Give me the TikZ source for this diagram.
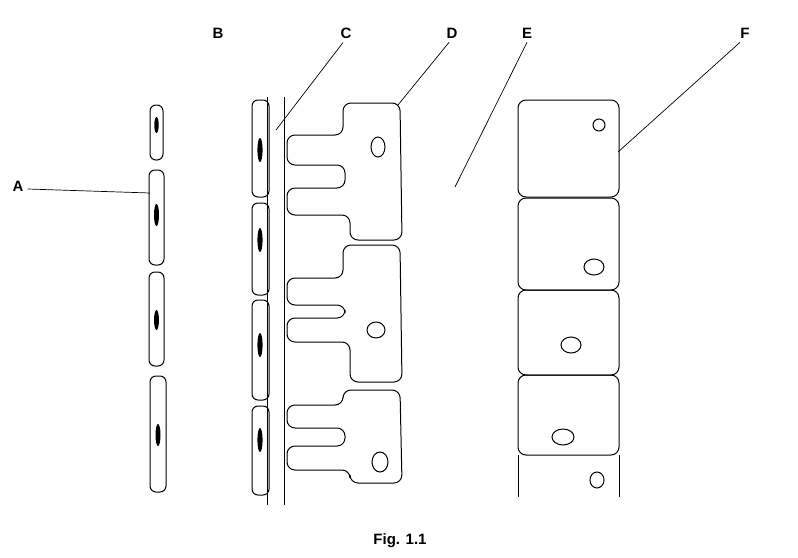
\documentclass[tikz,border=0pt]{standalone}
\usepackage{fontspec}
\setmainfont{Liberation Sans}
\tikzset{
  lbl/.style={font=\bfseries\fontsize{15}{15}\selectfont, inner sep=0pt},
  cell/.style={draw=black, line width=1pt, rounded corners=6pt},
  lead/.style={draw=black, line width=0.7pt},
  nuc/.style={fill=black},
  blob/.style={draw=black, line width=1pt}
}
\begin{document}
\begin{tikzpicture}[x=1pt,y=-1pt]
\useasboundingbox (0,0) rectangle (798,557);

% labels
\node[lbl] (A) at (18,186) {A};
\node[lbl] (B) at (218,33) {B};
\node[lbl] (C) at (346,33) {C};
\node[lbl] (D) at (452,33) {D};
\node[lbl] (E) at (527,33) {E};
\node[lbl] (F) at (745,33) {F};
\node[lbl] (cap) at (400,541) {Fig. 1.1};

% endothelial cells, left column
\draw[cell] (150,105) rectangle (163,160);
\fill[nuc] (156.5,125) ellipse (2.2 and 8);
\draw[cell] (149,170) rectangle (164,265);
\fill[nuc] (156.5,215) ellipse (2.5 and 11);
\draw[cell] (149,272) rectangle (164,366);
\fill[nuc] (156.5,320) ellipse (2.5 and 10);
\draw[cell] (150,376) rectangle (166,492);
\fill[nuc] (158,435) ellipse (2.5 and 11);

% cells beside the membrane
\foreach \ya/\yb/\yn in {100/197/150, 203/295/240, 300/400/345, 406/495/440}
  {\draw[cell] (252,\ya) rectangle (269,\yb);
   \fill[nuc] (260,\yn) ellipse (2.6 and 12);}

% membrane
\draw[line width=1pt] (267,97) -- (267,505);
\draw[line width=1pt] (284,97) -- (284,505);

% podocytes
\foreach \t/\b/\fa/\fb/\fc/\fd in {103/240/135/165/188/215, 245/382/278/305/318/342, 390/483/405/428/446/470}
  {\draw[cell, rounded corners=8pt] (343,\t) -- (400,\t) -- (402,\b) -- (350,\b) -- (350,\fd)
    -- (287,\fd) -- (287,\fc) -- (345,\fc) -- (345,\fb) -- (287,\fb) -- (287,\fa) -- (343,\fa) -- cycle;}
\draw[blob] (378,147) ellipse (7 and 10);
\draw[blob] (376,330) ellipse (9 and 8);
\draw[blob] (380,462) ellipse (8 and 10);

% tubule cells
\foreach \ya/\yb in {100/197, 198/290, 290/375, 375/455}
  {\draw[cell, rounded corners=8pt] (518,\ya) rectangle (619,\yb);}
\draw[line width=1pt] (518,455) -- (518,497);
\draw[line width=1pt] (619,455) -- (619,497);
\draw[blob] (599,125) ellipse (6 and 6);
\draw[blob] (594,267) ellipse (10 and 8);
\draw[blob] (571,345) ellipse (10 and 8);
\draw[blob] (563,437) ellipse (11 and 8);
\draw[blob] (597,480) ellipse (7 and 8);

% leader lines
\coordinate (a1) at (150,193);
\coordinate (c1) at (276,130);
\coordinate (d1) at (398,105);
\coordinate (e1) at (455,187);
\coordinate (f1) at (618,152);
\draw[lead] (A.east) ++(4,3) -- (a1);
\draw[lead] (C.south) ++(-3,4) -- (c1);
\draw[lead] (D.south) ++(-3,4) -- (d1);
\draw[lead] (E.south) ++(0,4) -- (e1);
\draw[lead] (F.south) ++(-5,4) -- (f1);
\end{tikzpicture}
\end{document}
